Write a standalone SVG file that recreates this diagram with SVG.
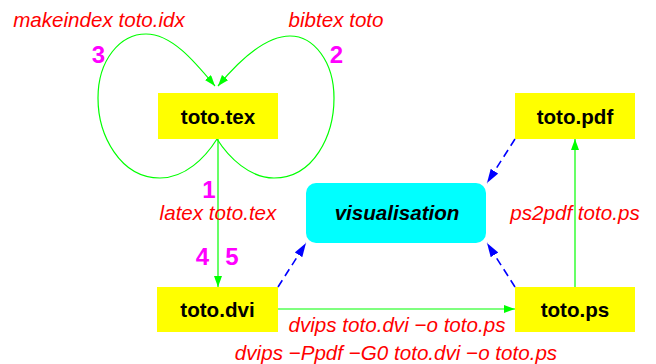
<svg xmlns="http://www.w3.org/2000/svg" width="656" height="364" viewBox="0 0 656 364">
<style>
.file{fill:#ffff00;stroke:none}
.lbl{font-family:"Liberation Sans",Arial,sans-serif;font-size:20.6px;font-weight:bold;fill:#000;text-anchor:middle}
.cmd{font-family:"Liberation Sans",Arial,sans-serif;font-size:20.6px;font-style:italic;fill:#ff0000;text-anchor:middle}
.num{font-family:"Liberation Sans",Arial,sans-serif;font-size:24px;font-weight:bold;fill:#ff00ff;text-anchor:middle}
.g{fill:none;stroke:#00ff00;stroke-width:1.2}
.b{fill:none;stroke:#0000ff;stroke-width:1.6;stroke-dasharray:8 5}
</style>
<defs>
<marker id="ag" markerUnits="userSpaceOnUse" markerWidth="12" markerHeight="9" refX="11" refY="4" orient="auto">
<path d="M0,0 L11,4 L0,8 z" fill="#00ff00"/>
</marker>
<marker id="ab" markerUnits="userSpaceOnUse" markerWidth="15" markerHeight="10" refX="14" refY="4.5" orient="auto">
<path d="M0,0 L14,4.5 L0,9 z" fill="#0000ff"/>
</marker>
</defs>
<rect width="656" height="364" fill="#ffffff"/>
<g id="connectors">
<path class="g" d="M217,139 C205,158 185,178 160,178 C120,178 98,135 98,98 C98,60 120,34 146,34 C172,34 195,62 215,86" marker-end="url(#ag)"/>
<path class="g" d="M217,139 C229,158 250,178 274,178 C314,178 334,135 334,98 C334,62 314,36 290,36 C264,36 238,62 218,86" marker-end="url(#ag)"/>
<path class="g" d="M218,139 L218,287" marker-end="url(#ag)"/>
<path class="g" d="M278,309 L515,309" marker-end="url(#ag)"/>
<path class="g" d="M575,287 L575,139" marker-end="url(#ag)"/>
<path class="b" d="M278,287 L306,243" marker-end="url(#ab)"/>
<path class="b" d="M515,287 L487,243" marker-end="url(#ab)"/>
<path class="b" d="M515,139 L487,183" marker-end="url(#ab)"/>
<text class="cmd" x="99" y="27">makeindex toto.idx</text>
<text class="cmd" x="336" y="27">bibtex toto</text>
<text class="cmd" x="218" y="220">latex toto.tex</text>
<text class="cmd" x="397" y="332">dvips toto.dvi −o toto.ps</text>
<text class="cmd" x="396" y="360">dvips −Ppdf −G0 toto.dvi −o toto.ps</text>
<text class="cmd" x="575" y="220">ps2pdf toto.ps</text>
<text class="num" x="98.5" y="63">3</text>
<text class="num" x="336.5" y="63">2</text>
<text class="num" x="209" y="198">1</text>
<text class="num" x="202.5" y="265">4</text>
<text class="num" x="232" y="265">5</text>
</g>
<g id="tex">
<rect class="file" x="158" y="93" width="120" height="46"/>
<text class="lbl" x="218" y="124">toto.tex</text>
</g>
<g id="dvi">
<rect class="file" x="157" y="287" width="121" height="45"/>
<text class="lbl" x="217.5" y="317">toto.dvi</text>
</g>
<g id="ps">
<rect class="file" x="515" y="287" width="120" height="45"/>
<text class="lbl" x="575" y="317">toto.ps</text>
</g>
<g id="pdf">
<rect class="file" x="515" y="93" width="120" height="46"/>
<text class="lbl" x="575" y="124">toto.pdf</text>
</g>
<g id="visualisation">
<rect x="306" y="183" width="180" height="60" rx="10" ry="10" fill="#00ffff"/>
<text class="lbl" x="397" y="220" font-style="italic">visualisation</text>
</g>
</svg>
